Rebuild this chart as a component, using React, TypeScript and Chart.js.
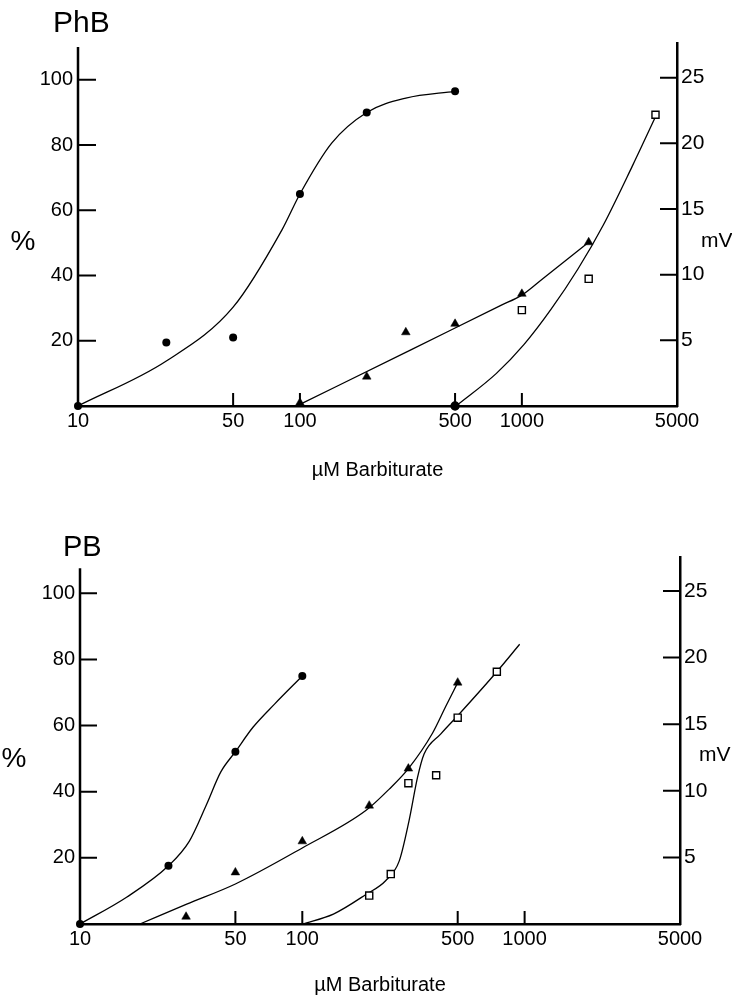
import React, { useEffect, useRef } from 'react';
import { Chart, registerables } from 'chart.js';

Chart.register(...registerables);

// ---- axis tick values / labels ----
const xTickValues = [10, 50, 100, 500, 1000, 5000];
const xMarkValues = [50, 100, 500, 1000];
const pctTickValues = [20, 40, 60, 80, 100];
const mvTickValues = [5, 10, 15, 20, 25];
const xAxisTitle = 'µM Barbiturate';

// ---- PhB panel: measured points ----
const phbCircleX = [10, 25, 50, 100, 200, 500];
const phbCircleY = [0, 19.5, 21, 65, 90, 96.5];
const phbTriangleX = [100, 200, 300, 500, 1000, 2000];
const phbTriangleY = [1, 9, 22.6, 25.2, 34.4, 50.2];
const phbSquareX = [500, 1000, 2000, 4000];
const phbSquareY = [0, 29.4, 39, 89.3];

// ---- PhB panel: fitted curves ----
const phbCircleCurveX = [10, 25, 50, 83, 100, 139, 200, 300, 500];
const phbCircleCurveY = [0, 13.8, 30.3, 54, 65, 80.6, 90, 94.4, 96.5];
const phbTriangleCurveX = [100, 316, 800, 1000, 1250, 2000];
const phbTriangleCurveY = [0.5, 17.2, 30.8, 34, 39.2, 50.2];
const phbSquareCurveX = [505, 768, 1021, 1352, 1789, 2328, 3137, 3976];
const phbSquareCurveY = [0, 10, 18.8, 29.6, 42, 55.5, 73.4, 88.3];

// ---- PB panel: measured points ----
const pbCircleX = [10, 25, 50, 100];
const pbCircleY = [0, 17.6, 52.1, 75];
const pbTriangleX = [30, 50, 100, 200, 300, 500];
const pbTriangleY = [2.2, 15.6, 25, 35.8, 47, 73];
const pbSquareX = [200, 250, 300, 400, 500, 750];
const pbSquareY = [8.6, 15.1, 42.6, 45, 62.4, 76.3];

// ---- PB panel: fitted curves ----
const pbCircleCurveX = [10, 16.2, 25, 31, 37, 43, 50, 60, 75, 100];
const pbCircleCurveY = [0, 8.1, 17.6, 25, 36, 46, 52.1, 59.5, 66.5, 75];
const pbTriangleCurveX = [18.6, 30.2, 50, 100, 193, 246, 300, 385, 441, 500];
const pbTriangleCurveY = [0, 6, 12.1, 23, 34.3, 40.8, 47, 57.7, 65.7, 73];
const pbSquareCurveX = [100, 138, 194, 237, 273, 302, 330, 353, 420, 500, 750, 950];
const pbSquareCurveY = [0, 3, 9, 13.1, 19.1, 31.2, 44.4, 51.4, 57.5, 63, 76.3, 84.6];

const FONT = "'Liberation Sans', Arial, sans-serif";

function pts(xs: number[], ys: number[]) {
  return xs.map((x, i) => ({ x, y: ys[i] }));
}

function curve(xs: number[], ys: number[]) {
  return {
    data: pts(xs, ys),
    showLine: true,
    borderColor: '#000',
    borderWidth: 1.3,
    pointRadius: 0,
    pointHoverRadius: 0,
    cubicInterpolationMode: 'monotone',
    fill: false,
    clip: false,
    order: 2,
    yAxisID: 'y',
  };
}

function markers(xs: number[], ys: number[], kind: string) {
  const base: any = {
    data: pts(xs, ys),
    showLine: false,
    clip: false,
    order: 1,
    yAxisID: 'y',
    pointBorderColor: '#000',
  };
  if (kind === 'circle') {
    return { ...base, pointStyle: 'circle', pointRadius: 4, pointBackgroundColor: '#000', pointBorderWidth: 0 };
  }
  if (kind === 'triangle') {
    return { ...base, pointStyle: 'triangle', pointRadius: 5, pointBackgroundColor: '#000', pointBorderWidth: 0.5 };
  }
  return {
    ...base,
    pointStyle: (c: any) => (c.raw && c.raw.y === 0 ? 'circle' : 'rect'),
    pointRadius: (c: any) => (c.raw && c.raw.y === 0 ? 4 : 5),
    pointBackgroundColor: (c: any) => (c.raw && c.raw.y === 0 ? '#000' : '#fff'),
    pointBorderWidth: 1.4,
  };
}

const panelDecor = {
  id: 'panelDecor',
  afterDraw(chart: any, _args: any, o: any) {
    const { ctx, chartArea, scales } = chart;
    const x = scales.x;
    const y = scales.y;
    const y2 = scales.y2;
    const left = chartArea.left;
    const right = chartArea.right;
    const bottom = chartArea.bottom;
    ctx.save();
    ctx.strokeStyle = '#000';
    ctx.lineCap = 'butt';
    // left axis line
    ctx.lineWidth = 2.5;
    ctx.beginPath();
    ctx.moveTo(left, bottom + 1.25);
    ctx.lineTo(left, y.getPixelForValue(o.leftTop));
    ctx.stroke();
    // inner tick marks
    ctx.lineWidth = 2;
    ctx.beginPath();
    for (const v of pctTickValues) {
      const py = y.getPixelForValue(v);
      ctx.moveTo(left, py);
      ctx.lineTo(left + o.yTickLen, py);
    }
    for (const v of mvTickValues) {
      const py = y2.getPixelForValue(v);
      ctx.moveTo(right, py);
      ctx.lineTo(right - o.y2TickLen, py);
    }
    for (const v of xMarkValues) {
      const px = x.getPixelForValue(v);
      ctx.moveTo(px, bottom);
      ctx.lineTo(px, bottom - o.xTickLen);
    }
    ctx.stroke();
    // texts
    ctx.fillStyle = '#000';
    ctx.textAlign = 'left';
    ctx.textBaseline = 'alphabetic';
    ctx.font = `${o.titleSize}px ${FONT}`;
    ctx.fillText(o.title, o.titleX, o.titleBase);
    ctx.font = `28px ${FONT}`;
    ctx.textAlign = 'center';
    ctx.textBaseline = 'middle';
    ctx.fillText('%', o.pctX, o.pctY);
    ctx.font = `21px ${FONT}`;
    ctx.textAlign = 'left';
    ctx.textBaseline = 'alphabetic';
    ctx.fillText('mV', o.mvX, o.mvBase);
    ctx.restore();
  },
};

function buildConfig(p: any): any {
  return {
    type: 'scatter',
    data: {
      datasets: [
        curve(p.circleCurveX, p.circleCurveY),
        curve(p.triangleCurveX, p.triangleCurveY),
        curve(p.squareCurveX, p.squareCurveY),
        markers(p.circleX, p.circleY, 'circle'),
        markers(p.triangleX, p.triangleY, 'triangle'),
        markers(p.squareX, p.squareY, 'square'),
      ],
    },
    options: {
      responsive: false,
      animation: false,
      devicePixelRatio: 1,
      events: [],
      layout: { padding: { top: p.areaTop, left: 0, right: 0, bottom: 0 } },
      plugins: {
        legend: { display: false },
        tooltip: { enabled: false },
        panelDecor: {
          leftTop: p.leftTop,
          yTickLen: p.yTickLen,
          y2TickLen: p.y2TickLen,
          xTickLen: p.xTickLen,
          title: p.title,
          titleX: p.titleX,
          titleBase: p.titleBase,
          titleSize: p.titleSize,
          pctX: p.pctX,
          pctY: p.pctY,
          mvX: p.mvX,
          mvBase: p.mvBase,
        },
      },
      scales: {
        x: {
          type: 'logarithmic',
          position: 'bottom',
          min: 10,
          max: 5000,
          grid: { display: false, drawTicks: false },
          border: { display: true, color: '#000', width: 2.5 },
          afterBuildTicks: (s: any) => {
            s.ticks = xTickValues.map((v) => ({ value: v }));
          },
          afterFit: (s: any) => {
            s.height = p.xAxisHeight;
          },
          ticks: {
            color: '#000',
            font: { family: FONT, size: 20 },
            padding: 3,
            autoSkip: false,
            maxRotation: 0,
            minRotation: 0,
            callback: (v: any) => String(v),
          },
          title: {
            display: true,
            text: xAxisTitle,
            color: '#000',
            font: { family: FONT, size: 20 },
            padding: { top: 0, bottom: p.xTitlePad },
          },
        },
        y: {
          type: 'linear',
          position: 'left',
          min: 0,
          max: p.pctMax,
          grid: { display: false, drawTicks: false },
          border: { display: false },
          afterBuildTicks: (s: any) => {
            s.ticks = pctTickValues.map((v) => ({ value: v }));
          },
          afterFit: (s: any) => {
            s.width = p.leftWidth;
          },
          ticks: {
            color: '#000',
            font: { family: FONT, size: 20 },
            padding: 5,
            autoSkip: false,
            callback: (v: any) => String(v),
          },
        },
        y2: {
          type: 'linear',
          position: 'right',
          min: 0,
          max: p.mvMax,
          grid: { display: false, drawTicks: false },
          border: { display: true, color: '#000', width: 2.5 },
          afterBuildTicks: (s: any) => {
            s.ticks = mvTickValues.map((v) => ({ value: v }));
          },
          afterFit: (s: any) => {
            s.width = p.rightWidth;
          },
          ticks: {
            color: '#000',
            font: { family: FONT, size: 21 },
            padding: 4,
            autoSkip: false,
            callback: (v: any) => String(v),
          },
        },
      },
    },
    plugins: [panelDecor],
  };
}

const phbPanel = {
  circleX: phbCircleX, circleY: phbCircleY,
  triangleX: phbTriangleX, triangleY: phbTriangleY,
  squareX: phbSquareX, squareY: phbSquareY,
  circleCurveX: phbCircleCurveX, circleCurveY: phbCircleCurveY,
  triangleCurveX: phbTriangleCurveX, triangleCurveY: phbTriangleCurveY,
  squareCurveX: phbSquareCurveX, squareCurveY: phbSquareCurveY,
  top: 0, height: 500, areaTop: 43, leftWidth: 78, rightWidth: 55, xAxisHeight: 94,
  pctMax: 111.3, mvMax: 27.64, leftTop: 110.1, xTitlePad: 18,
  yTickLen: 18, y2TickLen: 17, xTickLen: 13,
  title: 'PhB', titleX: 53, titleBase: 32, titleSize: 30,
  pctX: 23, pctY: 242, mvX: 701, mvBase: 247,
};

const pbPanel = {
  circleX: pbCircleX, circleY: pbCircleY,
  triangleX: pbTriangleX, triangleY: pbTriangleY,
  squareX: pbSquareX, squareY: pbSquareY,
  circleCurveX: pbCircleCurveX, circleCurveY: pbCircleCurveY,
  triangleCurveX: pbTriangleCurveX, triangleCurveY: pbTriangleCurveY,
  squareCurveX: pbSquareCurveX, squareCurveY: pbSquareCurveY,
  top: 500, height: 498, areaTop: 57, leftWidth: 80, rightWidth: 52, xAxisHeight: 74,
  pctMax: 111.0, mvMax: 27.55, leftTop: 107.6, xTitlePad: 1,
  yTickLen: 17, y2TickLen: 17, xTickLen: 13,
  title: 'PB', titleX: 63, titleBase: 56, titleSize: 29,
  pctX: 14, pctY: 259, mvX: 699, mvBase: 261,
};

function Panel({ p }: { p: any }) {
  const ref = useRef<HTMLCanvasElement>(null);
  useEffect(() => {
    if (!ref.current) return;
    const chart = new Chart(ref.current, buildConfig(p));
    return () => chart.destroy();
  }, [p]);
  return (
    <canvas
      ref={ref}
      width={732}
      height={p.height}
      style={{ position: 'absolute', left: 0, top: p.top, width: 732, height: p.height, display: 'block' }}
    />
  );
}

export default function App() {
  return (
    <div style={{ position: 'absolute', left: 0, top: 0, width: 732, height: 998, background: '#fff', overflow: 'hidden' }}>
      <Panel p={phbPanel} />
      <Panel p={pbPanel} />
    </div>
  );
}
